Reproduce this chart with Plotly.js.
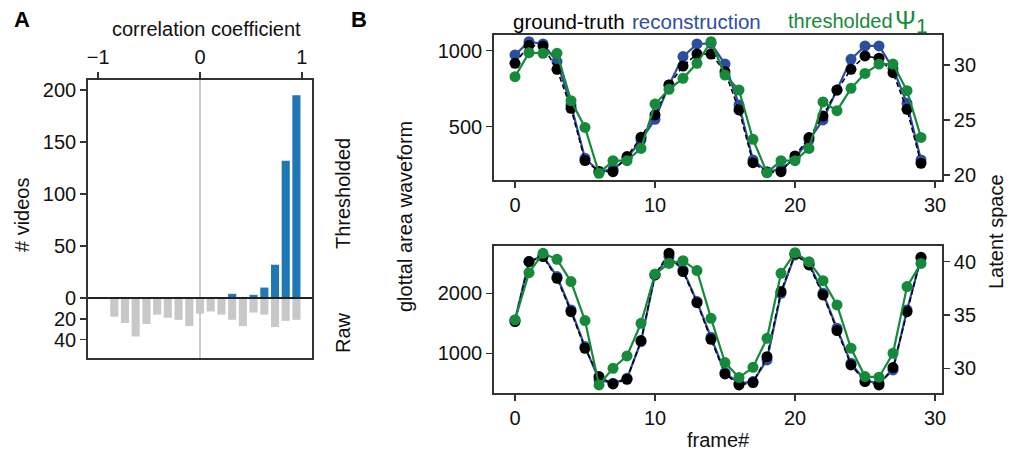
<!DOCTYPE html>
<html>
<head>
<meta charset="utf-8">
<script src="https://cdn.plot.ly/plotly-3.0.1.min.js"></script>
<style>html,body{margin:0;padding:0;background:#fff;}#chart{width:1015px;height:458px;}</style>
</head>
<body>
<div id="chart"></div>
<script>
// ---------- Panel A data ----------
const binCenters = [-0.842,-0.737,-0.632,-0.526,-0.421,-0.316,-0.211,-0.105,0,0.105,0.211,0.316,0.421,0.526,0.632,0.737,0.842,0.947];
const thresholdedCounts = [0,0,0,0,0,0,1,0,0,0,0,4,1,3,10,32,132,195];
const rawCounts = [18,24,37,25,16,19,21,27,15,13,16,21,27,14,16,28,22,21];
const corrTicks = [-1,0,1];
const countTickVals = [200,150,100,50,0,-20,-40];
const countTickText = ['200','150','100','50','0','20','40'];

// ---------- Panel B data ----------
const frames = [0,1,2,3,4,5,6,7,8,9,10,11,12,13,14,15,16,17,18,19,20,21,22,23,24,25,26,27,28,29];
const gtTop = [917,1035,1030,877,621,277,205,204,303,430,577,774,899,978,978,862,610,263,200,204,307,428,570,741,877,965,950,855,614,259];
const recTop = [972,1059,1044,928,643,292,204,219,292,412,548,774,961,1044,1048,912,643,281,204,219,292,412,544,741,943,1031,1031,884,654,281];
const psiTop = [28.94,31.12,31.06,31.06,26.76,24.33,20.15,21.30,21.30,22.42,26.45,27.79,28.79,30.15,32.12,29.09,27.73,23.24,20.21,21.30,21.30,22.42,26.64,25.85,27.88,29.24,30.09,30.09,27.67,23.42];
const gtBot = [1528,2528,2611,2250,1694,1083,611,489,567,1211,2306,2667,2361,1844,1233,656,472,511,944,2028,2656,2472,1972,1378,806,528,472,761,1694,2600];
const recBot = [1556,2528,2622,2278,1722,1111,556,500,583,1194,2306,2611,2389,1861,1267,678,500,528,889,2000,2639,2500,2000,1417,833,544,500,722,1722,2583];
const psiBot = [34.53,38.97,40.78,40.22,38.13,34.47,28.44,30.00,31.16,34.22,38.84,39.84,40.09,39.16,34.69,30.53,29.13,30.09,32.81,38.91,40.84,40.00,38.22,35.94,31.88,29.22,29.16,31.41,37.66,39.84];
const frameTicks = [0,10,20,30];

const W = 1015, H = 458;
const px = v => v / W;
const py = v => 1 - v / H;

const FONT = 'Liberation Sans, Arial, sans-serif';
const BLUE = '#2c4e9f', GREEN = '#168a3b', BARBLUE = '#1f77b4', BARGRAY = '#c8c8c8', SPINE = '#333333';

const commonAxis = {
  showline: true, linecolor: SPINE, linewidth: 1.8, mirror: false,
  ticks: 'outside', ticklen: 6, tickwidth: 1.5, tickcolor: SPINE,
  showgrid: false, zeroline: false,
  tickfont: {family: FONT, size: 20, color: '#111'}
};

const traces = [
  {type:'bar', x: binCenters, y: thresholdedCounts, width: 0.08, marker:{color: BARBLUE, line:{width:0}}, xaxis:'x', yaxis:'y', hoverinfo:'skip'},
  {type:'bar', x: binCenters, y: rawCounts.map(v => -v), width: 0.08, marker:{color: BARGRAY, line:{width:0}}, xaxis:'x', yaxis:'y', hoverinfo:'skip'},
  // top panel B
  {type:'scatter', mode:'lines+markers', x: frames, y: recTop, line:{color: BLUE, width: 2.2}, marker:{color: BLUE, size: 11}, xaxis:'x2', yaxis:'y2'},
  {type:'scatter', mode:'lines+markers', x: frames, y: gtTop, line:{color: '#000', width: 1.6, dash:'5px,3px'}, marker:{color: '#000', size: 11}, xaxis:'x2', yaxis:'y2'},
  {type:'scatter', mode:'lines+markers', x: frames, y: psiTop, line:{color: GREEN, width: 2.2}, marker:{color: GREEN, size: 11}, xaxis:'x2', yaxis:'y3'},
  // bottom panel B
  {type:'scatter', mode:'lines+markers', x: frames, y: recBot, line:{color: BLUE, width: 2.2}, marker:{color: BLUE, size: 11}, xaxis:'x3', yaxis:'y4'},
  {type:'scatter', mode:'lines+markers', x: frames, y: gtBot, line:{color: '#000', width: 1.6, dash:'5px,3px'}, marker:{color: '#000', size: 11}, xaxis:'x3', yaxis:'y4'},
  {type:'scatter', mode:'lines+markers', x: frames, y: psiBot, line:{color: GREEN, width: 2.2}, marker:{color: GREEN, size: 11}, xaxis:'x3', yaxis:'y5'}
];

function ann(text, x, y, opts) {
  return Object.assign({text: text, x: px(x), y: py(y), xref:'paper', yref:'paper', xanchor:'center', yanchor:'middle', showarrow:false,
    font:{family:FONT, size:20, color:'#111'}}, opts || {});
}

const layout = {
  width: W, height: H,
  margin: {l:0, r:0, t:0, b:0},
  paper_bgcolor: '#fff', plot_bgcolor: 'rgba(0,0,0,0)',
  showlegend: false,
  barmode: 'overlay',
  font: {family: FONT, color: '#111'},
  xaxis: Object.assign({}, commonAxis, {domain:[px(88), px(312)], range:[-1.1, 1.1], side:'top', anchor:'y', mirror:true, tickvals: corrTicks, ticktext: ['\u22121','0','1']}),
  yaxis: Object.assign({}, commonAxis, {domain:[py(358), py(80)], range:[-57.7, 209.6], anchor:'x', mirror:true, tickvals: countTickVals, ticktext: countTickText}),
  xaxis2: Object.assign({}, commonAxis, {domain:[px(494), px(942)], range:[-1.5, 30.5], anchor:'y2', mirror:true, tickvals: frameTicks}),
  yaxis2: Object.assign({}, commonAxis, {domain:[py(180), py(35)], range:[149, 1103], anchor:'x2', tickvals:[500,1000]}),
  yaxis3: Object.assign({}, commonAxis, {domain:[py(180), py(35)], range:[19.545, 32.73], anchor:'x2', overlaying:'y2', side:'right', tickvals:[20,25,30]}),
  xaxis3: Object.assign({}, commonAxis, {domain:[px(494), px(942)], range:[-1.5, 30.5], anchor:'y4', mirror:true, tickvals: frameTicks}),
  yaxis4: Object.assign({}, commonAxis, {domain:[py(393), py(246)], range:[338, 2788], anchor:'x3', tickvals:[1000,2000]}),
  yaxis5: Object.assign({}, commonAxis, {domain:[py(393), py(246)], range:[27.68, 41.47], anchor:'x3', overlaying:'y4', side:'right', tickvals:[30,35,40]}),
  shapes: [
    {type:'line', xref:'x', yref:'y domain', x0:0, x1:0, y0:0, y1:1, line:{color:'#aaaaaa', width:1.2}, layer:'below'},
    {type:'line', xref:'x domain', yref:'y', x0:0, x1:1, y0:0, y1:0, line:{color:'#222', width:2.2}, layer:'above'}
  ],
  annotations: [
    ann('<b>A</b>', 22, 19, {font:{family:FONT, size:22, color:'#000'}}),
    ann('<b>B</b>', 359, 19, {font:{family:FONT, size:22, color:'#000'}}),
    ann('correlation coefficient', 206, 29),
    ann('# videos', 22, 215, {textangle:-90}),
    ann('Thresholded', 343, 194, {textangle:-90}),
    ann('Raw', 343, 333, {textangle:-90}),
    ann('glottal area waveform', 405, 217, {textangle:-90}),
    ann('Latent space', 996, 232, {textangle:-90}),
    ann('frame#', 718, 440),
    ann('ground-truth', 511, 21, {xanchor:'left', font:{family:FONT, size:20.5, color:'#000'}}),
    ann('reconstruction', 630, 21, {xanchor:'left', font:{family:FONT, size:20.5, color:BLUE}}),
    ann('thresholded', 786, 21, {xanchor:'left', font:{family:FONT, size:20, color:GREEN}}),
    ann('<span style="font-size:25px">\u03A8</span><sub><span style="font-size:21px">1</span></sub>', 893, 21, {xanchor:'left', font:{family:FONT, size:20, color:GREEN}})
  ]
};

Plotly.newPlot('chart', traces, layout, {staticPlot:true, displayModeBar:false});
</script>
</body>
</html>
